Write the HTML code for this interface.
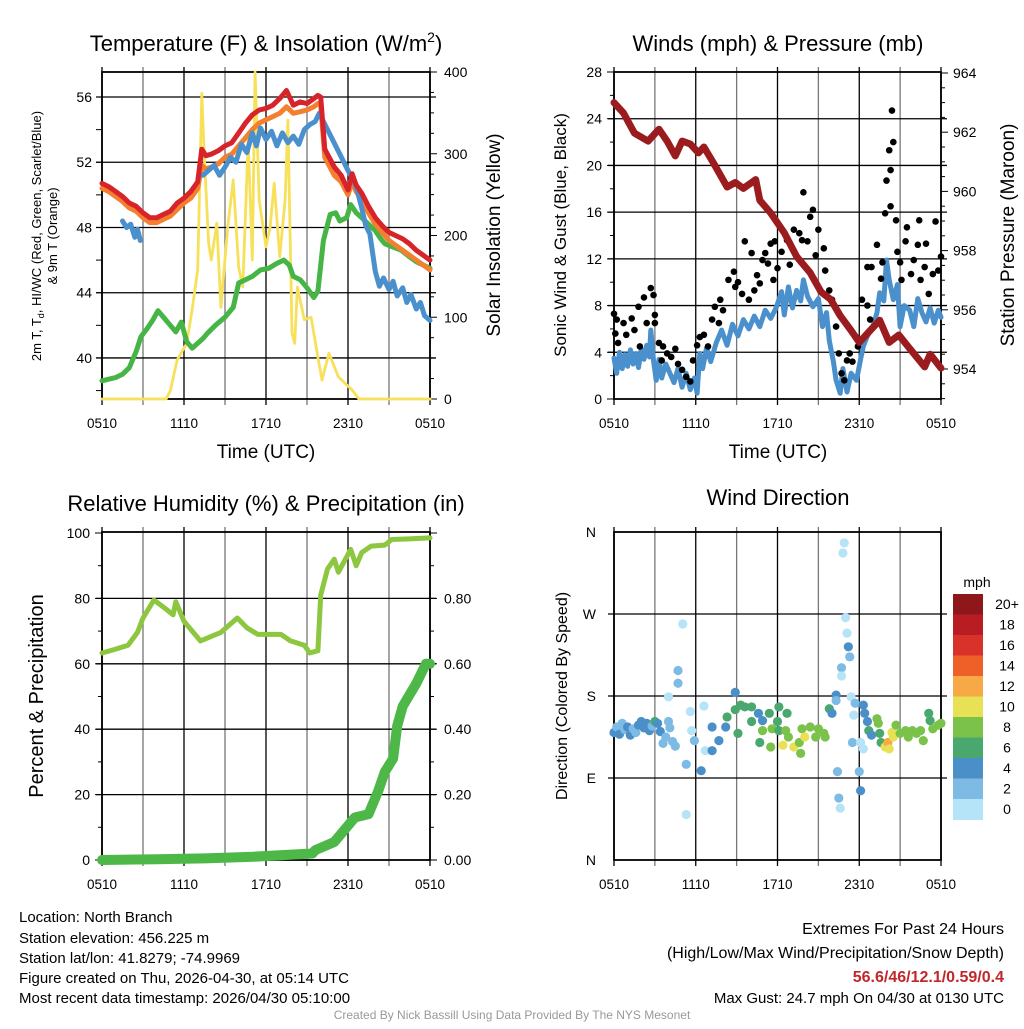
<!DOCTYPE html>
<html><head><meta charset="utf-8"><style>
body{margin:0;background:#fff;}
svg text{font-family:"Liberation Sans",sans-serif;}
</style></head><body>
<svg id="svg" width="1024" height="1024" xmlns="http://www.w3.org/2000/svg">
<g><text x="266" y="51" font-size="22" text-anchor="middle">Temperature (F) &amp; Insolation (W/m<tspan font-size="14" dy="-9">2</tspan><tspan dy="9">)</tspan></text></g>
<text x="778" y="51" font-size="22" text-anchor="middle">Winds (mph) &amp; Pressure (mb)</text>
<text x="266" y="511" font-size="22" text-anchor="middle">Relative Humidity (%) &amp; Precipitation (in)</text>
<text x="778" y="505" font-size="22" text-anchor="middle">Wind Direction</text>
<g id="p1"></g>
<g id="p2"></g>
<g id="p3"></g>
<g id="p4"></g>
<g font-size="13"><text transform="translate(41,236) rotate(-90)" text-anchor="middle">2m T, T<tspan font-size="9" dy="3">d</tspan><tspan dy="-3">, HI/WC (Red, Green, Scarlet/Blue)</tspan></text><text transform="translate(57,236) rotate(-90)" text-anchor="middle">&amp; 9m T (Orange)</text></g>
<text transform="translate(500,235) rotate(-90)" font-size="19" text-anchor="middle">Solar Insolation (Yellow)</text>
<text transform="translate(566,235) rotate(-90)" font-size="17" text-anchor="middle">Sonic Wind &amp; Gust (Blue, Black)</text>
<text transform="translate(1014,235) rotate(-90)" font-size="19" text-anchor="middle">Station Pressure (Maroon)</text>
<text transform="translate(43,696) rotate(-90)" font-size="20" text-anchor="middle">Percent &amp; Precipitation</text>
<text transform="translate(567,696) rotate(-90)" font-size="16" text-anchor="middle">Direction (Colored By Speed)</text>
<text x="266" y="458" font-size="19" text-anchor="middle">Time (UTC)</text>
<text x="778" y="458" font-size="19" text-anchor="middle">Time (UTC)</text>
<g font-size="15">
<text x="19" y="922">Location: North Branch</text>
<text x="19" y="943">Station elevation: 456.225 m</text>
<text x="19" y="963">Station lat/lon: 41.8279; -74.9969</text>
<text x="19" y="983">Figure created on Thu, 2026-04-30, at 05:14 UTC</text>
<text x="19" y="1003">Most recent data timestamp: 2026/04/30 05:10:00</text>
</g>
<g font-size="16" text-anchor="end">
<text x="1004" y="934">Extremes For Past 24 Hours</text>
<text x="1004" y="958">(High/Low/Max Wind/Precipitation/Snow Depth)</text>
<text x="1004" y="982" fill="#c1272d" font-weight="bold">56.6/46/12.1/0.59/0.4</text>
<text x="1004" y="1003" font-size="15">Max Gust: 24.7 mph On 04/30 at 0130 UTC</text>
</g>
<text x="512" y="1019" font-size="12" fill="#999" text-anchor="middle">Created By Nick Bassill Using Data Provided By The NYS Mesonet</text>
</svg>
<script>
// ---- data (hours since 0510 UTC) ----
const xTickLabels=["0510","1110","1710","2310","0510"];
const tempTicks=[40,44,48,52,56];
const solarTicks=[0,100,200,300,400];
const windTicks=[0,4,8,12,16,20,24,28];
const presTicks=[954,956,958,960,962,964];
const rhTicks=[0,20,40,60,80,100];
const precipTicks=["0.00","0.20","0.40","0.60","0.80"];
const dirTicks=["N","E","S","W","N"];
const speedBins=["0","2","4","6","8","10","12","14","16","18","20+"];

const redT=[0,0.5,1,1.5,2,2.5,3,3.5,4,4.5,5,5.5,6,6.5,7,7.3,7.6,8,8.5,9,9.5,10,10.5,11,11.5,12,12.5,13,13.5,14,14.5,15,15.5,15.8,16.0,16.3,17,17.5,18,18.3,18.6,19,19.5,20,20.5,21,21.5,22,22.5,23,23.5,24];
const redV=[50.7,50.5,50.2,49.9,49.5,49.3,48.9,48.6,48.6,48.8,49.0,49.5,49.8,50.2,50.8,52.8,52.4,52.5,52.7,53.0,53.2,53.8,54.4,54.9,55.2,55.3,55.5,55.9,56.4,55.5,55.7,55.6,55.9,56.1,56.0,52.8,51.7,51.2,50.3,51.3,50.6,50.1,49.3,48.6,48.1,47.7,47.5,47.3,47.0,46.6,46.3,46.0];
const orangeV=[50.4,50.2,49.9,49.6,49.2,49.0,48.6,48.3,48.3,48.5,48.7,49.1,49.5,49.8,50.4,51.8,51.6,51.7,51.9,52.3,52.5,53.0,53.5,54.0,54.4,54.6,54.8,55.0,55.4,55.0,55.1,55.2,55.4,55.6,55.5,52.3,51.2,50.8,50.0,50.8,50.2,49.7,48.9,48.2,47.7,47.2,46.9,46.6,46.3,46.0,45.7,45.4];
const blueT=[1.5,1.8,2.1,2.4,2.6,2.8,null,7.4,7.8,8.2,8.6,9,9.4,9.8,10.2,10.6,11,11.3,11.6,12,12.4,12.8,13.2,13.6,14,14.4,14.8,15.2,15.6,15.9,18.6,19,19.3,19.6,20,20.3,20.6,21,21.3,21.6,22,22.3,22.6,23,23.3,23.6,24];
const blueV=[48.4,48.0,48.2,47.4,47.9,47.2,null,51.2,51.5,51.8,51.2,51.7,52.3,52.0,53.1,52.6,53.8,53.0,54.1,53.4,53.9,53.0,53.8,53.2,53.6,53.1,54.0,54.3,54.5,55.0,50.5,49.2,48.1,47.6,45.3,44.4,44.9,44.2,44.7,43.8,44.3,43.4,43.9,43.0,43.4,42.6,42.3];
const greenT=[0,0.5,1,1.5,2,2.5,2.85,3.3,3.7,4.1,4.5,5,5.4,5.8,6.2,6.6,7,7.4,7.7,8.3,9,9.6,10,10.5,11,11.6,12.2,12.8,13.3,13.7,14,14.5,15,15.5,15.8,16.2,16.7,17.1,17.4,17.9,18.2,18.6,19,19.5,20,20.4,20.7,21.3,21.9,22.5,23,23.5,24];
const greenV=[38.6,38.7,38.8,39.0,39.4,40.4,41.3,41.8,42.3,42.9,42.5,42.0,41.6,42.2,41.0,40.6,40.9,41.2,41.5,42.0,42.5,43.1,44.6,44.8,45.0,45.4,45.5,45.8,46.0,45.7,45.0,44.8,44.3,43.7,44.1,47.2,48.8,48.9,48.4,48.6,49.4,48.9,48.6,48.2,47.8,47.3,47.0,46.8,46.6,46.2,45.9,45.7,45.5];
const solarT=[0,4.7,5.0,5.5,6.2,6.6,7.0,7.3,7.5,7.8,8.0,8.4,8.7,9.2,9.6,10.0,10.3,10.7,11.0,11.2,11.5,12.0,12.3,12.6,13.0,13.4,13.6,13.9,14.1,14.3,14.8,15.3,15.8,16.1,16.6,17.3,18.3,18.8,24];
const solarV=[0,0,10,48,68,110,158,374,292,191,170,215,112,210,268,161,137,317,170,400,243,186,210,264,174,243,341,81,68,137,97,100,51,23,56,27,11,0,0];

const presT=[0,0.7,1.5,2.5,3.3,3.9,4.5,5,5.6,6.2,6.6,7.3,8.3,8.9,9.5,10.4,10.7,11.5,12.5,13.4,14.4,15.2,15.9,16.6,17.4,18,18.6,19.5,20.2,20.9,21.6,22.8,23.2,24];
const presV=[963.0,962.65,961.97,961.7,962.1,961.7,961.2,961.7,961.6,961.3,961.5,960.96,960.15,960.3,960.1,960.4,959.7,959.27,958.6,957.8,957.25,956.6,956.35,955.8,955.3,954.9,955.2,955.65,954.9,955.15,954.75,954.07,954.5,954.03];
const windT=[0,0.2,0.4,0.6,0.8,1,1.2,1.4,1.6,1.8,2,2.2,2.4,2.6,2.7,2.9,3.1,3.3,3.5,3.8,4.1,4.4,4.7,5,5.3,5.6,5.9,6.1,6.3,6.5,6.8,7.1,7.5,7.9,8.3,8.7,9.1,9.5,9.9,10.3,10.7,11.1,11.5,11.9,12.3,12.5,12.8,13.1,13.4,13.7,13.9,14.2,14.6,15,15.3,15.6,15.8,16.1,16.3,16.6,16.8,17.1,17.4,17.8,18.1,18.3,18.6,19,19.3,19.5,19.8,20,20.2,20.5,20.8,21,21.3,21.7,22,22.3,22.6,22.9,23.2,23.5,23.8,24];
const windV=[3.5,2.2,4.0,2.6,3.8,2.8,4.2,3.0,3.9,2.7,4.3,3.4,4.6,3.6,5.9,3.3,1.6,3.4,1.8,3.0,2.2,1.4,2.6,1.0,2.2,0.8,1.8,0.5,3.9,2.6,4.4,3.2,4.8,5.9,4.6,6.4,5.4,6.8,6.0,7.1,6.2,7.6,6.9,7.8,9.2,7.2,9.6,7.8,9.3,8.4,10.2,8.8,7.9,8.6,6.2,7.4,5.0,3.2,1.6,0.5,2.6,0.6,2.2,1.6,3.4,4.5,5.4,6.2,7.4,9.1,8.4,11.9,10.2,8.5,9.8,6.2,8.0,7.6,6.2,8.6,7.4,6.6,7.8,6.5,7.6,7.0];
const gustT=[0,0.2,0.1,0.3,0.7,0.9,1.3,1.5,1.8,1.9,2.2,2.4,2.7,2.9,3.0,3.0,3.3,3.6,3.5,3.9,4.2,4.5,4.7,5.0,5.3,5.6,5.8,6.1,6.3,6.6,6.9,7.2,7.4,7.8,7.7,8.0,8.4,8.8,8.9,9.1,9.4,9.6,9.9,10.1,10.3,10.5,10.7,10.9,11.1,11.3,11.5,11.7,11.8,12.0,12.3,12.7,12.9,13.2,13.6,13.9,13.8,14.2,14.4,14.6,14.8,15.0,15.4,15.5,15.8,16.0,16.3,16.5,16.7,16.9,17.1,17.3,17.5,17.9,18.2,18.6,18.8,18.6,18.9,19.3,19.6,19.7,19.9,20.0,20.2,20.3,20.4,20.5,20.3,20.7,20.8,21.0,21.1,21.4,21.5,21.8,22.0,22.3,22.4,22.5,22.8,22.9,23.1,23.4,23.6,23.8,24.0];
const gustV=[7.3,6.8,5.6,4.8,6.5,5.5,6.9,5.9,7.9,4.5,8.7,6.5,9.5,8.9,7.2,6.5,4.8,4.5,3.3,3.9,3.6,4.3,3.0,2.5,1.9,1.5,3.3,4.6,5.3,5.5,4.5,6.8,7.9,8.5,6.5,7.6,10.2,10.9,9.6,10.0,9.0,13.5,8.5,12.5,9.3,10.6,9.9,11.9,12.5,11.6,13.3,10.2,13.5,11.2,12.6,13.6,11.5,14.5,14.2,17.7,13.6,13.5,15.6,16.2,12.3,14.5,12.9,11.0,9.3,8.5,6.2,3.9,2.2,1.6,3.3,3.9,3.2,4.5,8.5,8.0,6.8,11.3,11.3,13.2,10.3,11.7,15.9,18.7,21.3,19.6,24.7,22.0,16.5,15.3,12.6,11.7,10.2,13.5,14.7,10.7,11.9,13.2,15.3,10.2,11.3,13.3,9.0,10.7,15.2,11.0,12.2];

const rhT=[0,1.0,1.9,2.6,3.0,3.8,4.6,5.2,5.4,6.0,7.2,8.7,9.9,10.6,11.4,13.1,13.8,14.8,15.2,15.8,16.0,16.5,17.0,17.3,18.2,18.6,19.0,19.7,20.7,21.2,22.5,24];
const rhV=[63.3,64.5,65.7,69.6,74,79.5,77,75,79,73,67,69.6,74,71,69,69,67,65.7,63.3,64,81,89,92,88,95,90,94,96,96.3,98,98.2,98.5];
const precT=[0,4,7.5,11.1,15.4,15.6,17,18.5,19.5,20.2,20.7,21.3,21.6,22,23,23.7,24];
const precV=[0,0.002,0.005,0.01,0.02,0.03,0.055,0.13,0.14,0.21,0.27,0.31,0.41,0.47,0.54,0.60,0.60];

const dirT=[0,0.2,0.4,0.6,0.8,1,1.2,1.4,1.6,1.8,2,2.2,2.4,2.6,2.8,3,3.2,3.4,3.6,3.8,4,4.1,4.3,4.5,4.0,4.7,4.7,5.05,5.3,5.3,5.6,6.6,5.7,5.9,6.4,6.7,7.2,7.2,7.7,8.2,8.3,8.9,8.9,9.3,9.1,9.6,10.1,10.1,10.6,10.9,10.7,11.4,10.9,11.6,11.5,12.1,12.0,12.1,12.6,12.7,12.4,12.8,13.2,13.6,13.7,13.8,14.0,14.4,14.8,15.0,15.4,15.5,15.8,16.0,16.3,16.3,16.4,16.5,16.6,16.7,16.7,16.9,16.8,17.0,17.1,17.2,17.3,17.4,17.6,17.7,17.5,18.1,18.3,18.0,18.1,18.3,18.4,18.6,18.7,18.9,19.3,19.4,19.5,19.6,19.9,20.1,20.2,20.4,20.5,20.7,21.0,21.4,21.6,21.9,22.2,22.5,22.7,23.1,23.2,23.4,23.8,24];
const dirV=[140,146,138,150,143,146,137,144,140,148,152,145,150,142,147,152,150,141,128,135,152,145,130,125,179,208,194,259,105,50,163,169,142,131,98,120,120,146,131,146,157,184,165,170,139,168,168,152,161,153,129,161,142,144,124,168,152,142,142,161,126,135,124,129,117,144,135,146,135,144,139,135,166,161,181,175,97,68,57,211,202,348,337,266,249,234,223,179,159,172,129,129,122,97,76,170,161,152,142,137,155,150,139,129,124,129,122,140,135,148,139,142,135,142,139,142,131,161,153,144,148,150];
const dirS=[4,3,4,3,3,4,4,3,3,4,4,4,4,4,3,6,4,4,2,2,2,3,2,3,0,2,2,1,2,0,0,0,1,2,4,1,4,4,4,4,6,4,6,6,6,6,6,6,4,4,6,6,8,8,8,6,6,6,8,6,10,8,10,8,8,8,10,8,8,8,8,8,6,4,4,2,2,2,0,2,0,0,0,0,0,4,2,0,0,2,2,0,0,2,4,4,4,4,6,4,8,8,6,6,10,12,10,10,10,8,8,8,8,8,8,8,8,6,6,8,8,8];

const NS="http://www.w3.org/2000/svg";
function mk(parent,tag,attrs){const e=document.createElementNS(NS,tag);for(const k in attrs)e.setAttribute(k,attrs[k]);parent.appendChild(e);return e;}
function path(parent,T,V,sx,sy,style){let d="",pen=false;for(let i=0;i<T.length;i++){if(T[i]===null||V[i]===null){pen=false;continue;}d+=(pen?"L":"M")+sx(T[i]).toFixed(1)+","+sy(V[i]).toFixed(1);pen=true;}return mk(parent,"path",Object.assign({d:d,fill:"none","stroke-linejoin":"round","stroke-linecap":"round"},style));}
function frame(g,L,R,T,B,hLines){
  for(let i=0;i<=8;i++){const x=L+(R-L)*i/8;const l=mk(g,"line",{x1:x,x2:x,y1:T-5,y2:B+6,stroke:i%2?"#777":"#000","stroke-width":1.3});
    
    }
  hLines.forEach(y=>{const l=mk(g,"line",{x1:L-6,x2:R+6,y1:y,y2:y,stroke:"#000","stroke-width":1.3});
    
    });
  const r=mk(g,"rect",{x:L,y:T,width:R-L,height:B-T,fill:"none",stroke:"#000","stroke-width":1.8});
  
  
  xTickLabels.forEach((s,i)=>{const t=mk(g,"text",{x:L+(R-L)*i/4,y:B+29,"font-size":13.5,"text-anchor":"middle"});t.textContent=s;
    
    });
}
function label(g,x,y,s,anchor,name){const t=mk(g,"text",{x:x,y:y+5,"font-size":14,"text-anchor":anchor});t.textContent=s;
  
  }

// Panel 1
(function(){const g=document.getElementById("p1");const L=102,R=430,T=72,B=399;
 const sx=h=>L+(R-L)*h/24, sy=v=>97+(56-v)*16.31, ss=v=>B-(B-T)*v/400;
 frame(g,L,R,T,B,tempTicks.map(sy));
 for(let v=38;v<=57;v+=2){mk(g,"line",{x1:L-6,x2:L,y1:sy(v),y2:sy(v),stroke:"#000"});}
 for(let v=0;v<=400;v+=25){mk(g,"line",{x1:R,x2:R+(v%100?4:7),y1:ss(v),y2:ss(v),stroke:"#000"});}
 tempTicks.forEach(v=>label(g,L-10,sy(v),v,"end","temp-tick-label"));
 solarTicks.forEach(v=>label(g,R+14,ss(v),v,"start","solar-tick-label"));
 const y=path(g,solarT,solarV,sx,ss,{stroke:"#f7e15a","stroke-width":2.8});
 const gr=path(g,greenT,greenV,sx,sy,{stroke:"#46b545","stroke-width":5});
 const o=path(g,redT,orangeV,sx,sy,{stroke:"#f47f2e","stroke-width":5});
 const bl=path(g,blueT,blueV,sx,sy,{stroke:"#4a90cc","stroke-width":5});
 const r=path(g,redT,redV,sx,sy,{stroke:"#d7242a","stroke-width":5});
})();
// Panel 2
(function(){const g=document.getElementById("p2");const L=614,R=941,T=72,B=399;
 const sx=h=>L+(R-L)*h/24, sy=v=>B-v*(B-T)/28, sp=v=>369-(v-954)*29.6;
 frame(g,L,R,T,B,windTicks.slice(1,7).map(sy));
 for(let v=0;v<=28;v+=2){mk(g,"line",{x1:L-(v%4?4:7),x2:L,y1:sy(v),y2:sy(v),stroke:"#000"});}
 for(let v=953;v<=964.2;v+=0.5){mk(g,"line",{x1:R,x2:R+(v%2?4:7),y1:sp(v),y2:sp(v),stroke:"#000"});}
 windTicks.forEach(v=>label(g,L-12,sy(v),v,"end","wind-tick-label"));
 presTicks.forEach(v=>label(g,R+12,sp(v),v,"start","pressure-tick-label"));
 const w=path(g,windT,windV,sx,sy,{stroke:"#4a90cc","stroke-width":5});
 gustT.forEach((h,i)=>{const c=mk(g,"circle",{cx:sx(h),cy:sy(gustV[i]),r:3.3,fill:"#000"});
   
   });
 const p=path(g,presT,presV,sx,sp,{stroke:"#9b1c1f","stroke-width":7});
})();
// Panel 3
(function(){const g=document.getElementById("p3");const L=102,R=430,T=532,B=860;
 const sx=h=>L+(R-L)*h/24, sy=v=>B-v*3.27, sq=v=>B-v*327;
 frame(g,L,R,T,B,rhTicks.slice(1,5).map(sy));
 for(let v=0;v<=100;v+=10){mk(g,"line",{x1:L-(v%20?4:7),x2:L,y1:sy(v),y2:sy(v),stroke:"#000"});mk(g,"line",{x1:R,x2:R+(v%20?4:7),y1:sy(v),y2:sy(v),stroke:"#000"});}
 rhTicks.forEach(v=>label(g,L-12,sy(v),v,"end","humidity-tick-label"));
 precipTicks.forEach(s=>label(g,R+14,sq(parseFloat(s)),s,"start","precip-tick-label"));
 const rh=path(g,rhT,rhV,sx,sy,{stroke:"#8dc63f","stroke-width":5});
 const pr=path(g,precT,precV,sx,sq,{stroke:"#4db848","stroke-width":10});
})();
// Panel 4
(function(){const g=document.getElementById("p4");const L=614,R=941,T=532,B=860;
 const colors=["#b5e3f8","#7dbbe5","#4a8fc7","#4aa86f","#7ac24a","#e8e055","#f6a945","#ef6029","#d9322b","#b81d24","#8e1719"];
 const sx=h=>L+(R-L)*h/24, sy=d=>B-d*(B-T)/360;
 frame(g,L,R,T,B,[sy(90),sy(180),sy(270)]);
 dirTicks.forEach((s,i)=>label(g,L-18,sy(i*90),s,"end","direction-tick-label"));
 dirT.forEach((h,i)=>{const c=mk(g,"circle",{cx:sx(h),cy:sy(dirV[i]),r:4.6,fill:colors[Math.min(10,Math.floor(dirS[i]/2))]});
   
   });
 const t=mk(g,"text",{x:977,y:587,"font-size":14,"text-anchor":"middle"});t.textContent="mph";
 
 
 const h=20.5;
 speedBins.forEach((s,i)=>{const k=10-i;const y=594+h*i;
   const r=mk(g,"rect",{x:953,y:y,width:30,height:h+0.5,fill:colors[k]});
   
   
   const tl=mk(g,"text",{x:1007,y:y+15,"font-size":14,"text-anchor":"middle"});tl.textContent=speedBins[k];
   
   });
})();
</script>
</body></html>
